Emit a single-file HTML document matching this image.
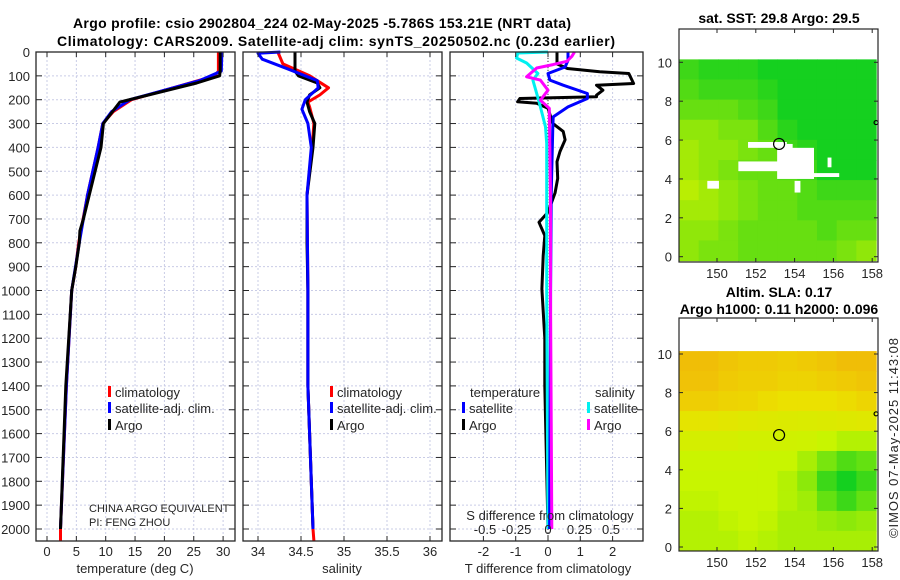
<!DOCTYPE html>
<html><head><meta charset="utf-8">
<style>
html,body{margin:0;padding:0;background:#fff;}
svg{display:block;font-family:"Liberation Sans","DejaVu Sans",sans-serif;}
.t{font-size:13px;fill:#262626;}
.ti{font-size:14px;font-weight:bold;fill:#000;}
</style></head>
<body>
<svg id="fig" width="900" height="580" viewBox="0 0 900 580" xmlns="http://www.w3.org/2000/svg">
<text class="ti" x="322" y="28" text-anchor="middle" textLength="498">Argo profile: csio 2902804_224 02-May-2025 -5.786S 153.21E (NRT data)</text>
<text class="ti" x="336" y="46" text-anchor="middle" textLength="558">Climatology: CARS2009. Satellite-adj clim: synTS_20250502.nc (0.23d earlier)</text>
<text class="ti" x="779" y="23" text-anchor="middle">sat. SST: 29.8 Argo: 29.5</text>
<text class="ti" x="779" y="297" text-anchor="middle">Altim. SLA: 0.17</text>
<text class="ti" x="779" y="314" text-anchor="middle">Argo h1000: 0.11 h2000: 0.096</text>
<text class="t" x="0" y="0" textLength="200" transform="translate(898,538) rotate(-90)">©IMOS 07-May-2025 11:43:08</text>
<g id="layer"></g>
</svg>
<script>
// ---- profile data (depth m) ----
const tDepth  = [0,80,100,130,210,300,400,500,700,750,800,900,1000,1400,2000];
const tArgo   = [29.5,29.5,29.4,25.5,12.4,9.6,9.2,8.2,6.2,5.6,5.5,4.9,4.2,3.2,2.3];
const cDepth  = [0,80,100,150,200,250,300,400,600,800,900,1000,1400,2000,2050];
const tClim   = [29.2,29.2,28.6,21.5,14.4,11.3,9.5,8.7,6.9,5.4,4.9,4.2,3.3,2.3,2.3];
const sDepth  = [0,80,120,150,200,250,300,400,600,800,1000,1400,2000];
const tSat    = [29.8,29.7,26.0,21.5,14.1,11.0,9.5,8.7,6.9,5.5,4.2,3.3,2.3];
const sArgoD  = [0,80,100,130,150,180,210,250,300,400,600,800,1000,1400,2000];
const sArgo   = [34.43,34.43,34.47,34.69,34.72,34.60,34.57,34.60,34.66,34.64,34.57,34.57,34.58,34.58,34.64];
const sClimD  = [0,50,100,150,180,210,230,300,400,600,1000,1400,2000,2050];
const sClim   = [34.23,34.29,34.60,34.82,34.72,34.58,34.60,34.65,34.63,34.57,34.58,34.58,34.64,34.65];
const sSatD   = [0,5,30,70,120,150,200,240,300,400,600,1000,1400,2000];
const sSat    = [34.26,34.0,34.05,34.34,34.69,34.70,34.55,34.51,34.58,34.62,34.57,34.58,34.58,34.64];
// differences
const dTArgoD = [0,50,69,83,90,132,139,160,181,188,195,209,215,236,300,333,368,417,460,530,590,672,714,770,854,994,1200,1400,2000];
const dTArgo  = [0.28,0.28,0.6,1.6,2.5,2.65,1.5,1.7,1.5,1.5,-0.87,-0.94,-0.35,0,0.15,0.47,0.53,0.37,0.28,0.3,0.22,0,-0.28,-0.1,-0.15,-0.19,-0.1,-0.1,0];
const dTSatD  = [0,35,63,90,118,139,174,195,230,272,314,600,1000,2000];
const dTSat   = [0.62,0.62,0.53,0,0.06,0.47,1.22,1.22,0.62,0.16,0.15,0.1,0.08,0.05];
const dSSatD  = [0,4,25,46,90,118,174,230,314,384,1000,2000];
const dSSat   = [0,-0.24,-0.25,-0.17,-0.08,-0.12,-0.09,-0.06,-0.02,-0.01,-0.01,0];
const dSArgoD = [0,18,39,53,67,104,118,160,202,236,600,1000,2000];
const dSArgo  = [0.21,0.19,0.15,0.04,-0.09,-0.17,-0.06,0,-0.06,0.01,0.02,0.02,0.03];
// axis ticks
const depthTicks = [0,100,200,300,400,500,600,700,800,900,1000,1100,1200,1300,1400,1500,1600,1700,1800,1900,2000];
const tTicks = [0,5,10,15,20,25,30];
const sTicks = [34,34.5,35,35.5,36];
const sTickLabels = ["34","34.5","35","35.5","36"];
const dtTicks = [-2,-1,0,1,2];
const dsTicks = [-0.5,-0.25,0,0.25,0.5];
const dsTickLabels = ["-0.5","-0.25","0","0.25","0.5"];
// maps
const lonTicks = [150,152,154,156,158];
const latTicks = [0,2,4,6,8,10];
const sstGrid = [
 [0.3,0.2,0.2,0.2,0.1,0.1,0.1,0.1,0.1,0.1],
 [0.4,0.3,0.3,0.3,0.2,0.1,0.1,0.1,0.1,0.1],
 [0.5,0.5,0.5,0.4,0.3,0.1,0.1,0.1,0.1,0.1],
 [0.7,0.7,0.6,0.6,0.4,0.2,0.1,0.1,0.1,0.1],
 [0.8,0.7,0.7,0.6,0.5,0.3,0.2,0.1,0.1,0.1],
 [0.8,0.7,0.6,0.5,0.5,0.4,0.3,0.1,0.1,0.1],
 [0.9,0.8,0.7,0.6,0.5,0.5,0.4,0.3,0.3,0.3],
 [0.8,0.8,0.7,0.6,0.5,0.5,0.4,0.4,0.4,0.4],
 [0.7,0.7,0.6,0.5,0.5,0.5,0.5,0.4,0.5,0.5],
 [0.7,0.6,0.6,0.5,0.5,0.5,0.5,0.5,0.6,0.7]];
const slaGrid = [
 [0.95,0.95,0.92,0.9,0.9,0.88,0.9,0.92,0.95,0.95],
 [0.93,0.93,0.9,0.88,0.88,0.86,0.86,0.88,0.9,0.92],
 [0.88,0.88,0.86,0.85,0.82,0.8,0.8,0.8,0.82,0.85],
 [0.75,0.75,0.72,0.7,0.68,0.66,0.65,0.66,0.68,0.7],
 [0.6,0.6,0.6,0.58,0.58,0.56,0.55,0.5,0.45,0.45],
 [0.52,0.52,0.52,0.52,0.5,0.5,0.42,0.3,0.2,0.25],
 [0.5,0.5,0.5,0.5,0.5,0.45,0.35,0.15,0.05,0.15],
 [0.48,0.48,0.5,0.5,0.5,0.45,0.4,0.25,0.15,0.25],
 [0.45,0.45,0.48,0.5,0.48,0.42,0.42,0.38,0.35,0.38],
 [0.45,0.45,0.45,0.48,0.45,0.42,0.42,0.42,0.42,0.42]];
const holeLon0 = [151.1,151.6,153.1,154.9,149.5,153.3,155.7,154.0];
const holeLon1 = [155.0,153.6,155.0,156.3,150.1,153.9,155.9,154.3];
const holeLat0 = [4.4,5.6,4.0,4.1,3.5,4.9,4.6,3.3];
const holeLat1 = [4.9,5.9,5.6,4.3,3.9,5.8,5.1,3.9];
const floatLon = [153.2];
const floatLat = [5.8];

const NS="http://www.w3.org/2000/svg";
const L=document.getElementById('layer');
function mk(tag,attrs,parent){const e=document.createElementNS(NS,tag);for(const k in attrs)e.setAttribute(k,attrs[k]);(parent||L).appendChild(e);return e;}
const Y0=52, KY=0.2385, YB=541;
const yD=d=>Y0+d*KY;
const ax1=v=>47+5.87*v, ax2=v=>258+86*(v-34), ax3=v=>548+32.3*v, ax3s=v=>548+126*v;
function grid(x0,x1,vals,fx){
  for(const d of depthTicks){const l=mk('line',{x1:x0,x2:x1,y1:yD(d),y2:yD(d),stroke:'#c9cce6','stroke-width':1,'stroke-dasharray':'2,2'});
    }
  for(const v of vals){const l=mk('line',{x1:fx(v),x2:fx(v),y1:Y0,y2:YB,stroke:'#c9cce6','stroke-width':1,'stroke-dasharray':'2,2'});
    }
}
function frame(x0,x1,name,vals,fx){
  const r=mk('rect',{x:x0,y:Y0,width:x1-x0,height:YB-Y0,fill:'none',stroke:'#262626','stroke-width':1.3});
  
  for(const d of depthTicks){mk('line',{x1:x0,x2:x0+6,y1:yD(d),y2:yD(d),stroke:'#262626'});mk('line',{x1:x1-6,x2:x1,y1:yD(d),y2:yD(d),stroke:'#262626'});}
  for(const v of vals){mk('line',{x1:fx(v),x2:fx(v),y1:YB-5,y2:YB,stroke:'#262626'});mk('line',{x1:fx(v),x2:fx(v),y1:Y0,y2:Y0+5,stroke:'#262626'});}
}
function line(ds,vs,fx,col,name,w){
  const pts=ds.map((d,i)=>fx(vs[i]).toFixed(1)+','+yD(d).toFixed(1)).join(' ');
  const p=mk('polyline',{points:pts,fill:'none',stroke:col,'stroke-width':w||3,'stroke-linejoin':'round'});
  
}
function text(x,y,s,name,anchor,size){const t=mk('text',{x:x,y:y,'class':'t','text-anchor':anchor||'start'});if(size)t.style.fontSize=size+'px';t.textContent=s;
  return t;}

// panel 1
grid(36,235,tTicks,ax1);
line(cDepth,tClim,ax1,'#ff0000','temp-climatology-line');
line(sDepth,tSat,ax1,'#0000ff','temp-satellite-line');
line(tDepth,tArgo,ax1,'#000000','temp-argo-line');
frame(36,235,'temperature-panel',tTicks,ax1);
for(const d of depthTicks) text(30,yD(d)+5,String(d),'depth-tick-label','end');
for(const v of tTicks) text(ax1(v),556,String(v),'temp-tick-label','middle');
text(135,573,'temperature (deg C)','temp-axis-title','middle');
// panel 2
grid(243,442,sTicks,ax2);
line(sClimD,sClim,ax2,'#ff0000','sal-climatology-line');
line(sArgoD,sArgo,ax2,'#000000','sal-argo-line');
line(sSatD,sSat,ax2,'#0000ff','sal-satellite-line');
frame(243,442,'salinity-panel',sTicks,ax2);
sTicks.forEach((v,i)=>text(ax2(v),556,sTickLabels[i],'sal-tick-label','middle'));
text(342,573,'salinity','sal-axis-title','middle');
// panel 3
grid(450,643,dtTicks,ax3);
mk('line',{x1:548,x2:548,y1:Y0,y2:YB,stroke:'#333','stroke-width':1,'stroke-dasharray':'1,2'});
line(dTArgoD,dTArgo,ax3,'#000000','tdiff-argo-line');
line(dSSatD,dSSat,ax3s,'#00f0f0','sdiff-satellite-line');
line(dTSatD,dTSat,ax3,'#0000ff','tdiff-satellite-line');
line(dSArgoD,dSArgo,ax3s,'#ff00ff','sdiff-argo-line');
frame(450,643,'difference-panel',dtTicks,ax3);
dtTicks.forEach(v=>text(ax3(v),556,String(v),'tdiff-tick-label','middle'));
text(548,573,'T difference from climatology','tdiff-axis-title','middle');
text(550,520,'S difference from climatology','sdiff-axis-title','middle');
dsTicks.forEach((v,i)=>text(ax3s(v),534,dsTickLabels[i],'sdiff-tick-label','middle'));
// legends
function leg(x,y,col,s,name){const r=mk('rect',{x:x,y:y-6,width:3,height:11,fill:col});text(x+7,y+5,s,name);}
leg(108,392,'#ff0000','climatology','legend-climatology');
leg(108,408,'#0000ff','satellite-adj. clim.','legend-satellite-adj');
leg(108,425,'#000000','Argo','legend-argo');
leg(330,392,'#ff0000','climatology','legend2-climatology');
leg(330,408,'#0000ff','satellite-adj. clim.','legend2-satellite-adj');
leg(330,425,'#000000','Argo','legend2-argo');
text(470,397,'temperature','legend-temperature-header');
text(595,397,'salinity','legend-salinity-header');
leg(462,408,'#0000ff','satellite','legend-t-satellite');
leg(462,425,'#000000','Argo','legend-t-argo');
leg(587,408,'#00f0f0','satellite','legend-s-satellite');
leg(587,425,'#ff00ff','Argo','legend-s-argo');
text(89,512,'CHINA ARGO EQUIVALENT','owner-note',null,11);
text(89,526,'PI: FENG ZHOU','pi-note',null,11);

// maps
function lerp(a,b,t){return a.map((v,i)=>Math.round(v+(b[i]-v)*t));}
function sstCol(v){return 'rgb('+lerp([0,204,34],[205,242,0],v).join(',')+')';}
function slaCol(v){let c;if(v<0.5)c=lerp([0,204,34],[200,245,0],v/0.5);else if(v<0.8)c=lerp([200,245,0],[235,225,0],(v-0.5)/0.3);else c=lerp([235,225,0],[242,178,10],(v-0.8)/0.2);return 'rgb('+c.join(',')+')';}
function map(top,lat10,lat0,g,colf,name,holes){
  const bx0=679,bx1=878,by0=top,by1=top+233;
  const fx=lon=>717+19.4*(lon-150), fy=lat=>lat0+(lat10-lat0)*lat/10;
  const grp=mk('g',{});
  const lonA=148.04,lonB=158.2,latT=10.15,latB=-0.2;
  for(let r=0;r<10;r++)for(let c=0;c<10;c++){
    const lo0=lonA+(lonB-lonA)*c/10,lo1=lonA+(lonB-lonA)*(c+1)/10;
    const la1=latT-(latT-latB)*r/10,la0=latT-(latT-latB)*(r+1)/10;
    const cell=mk('rect',{x:fx(lo0),y:fy(la1),width:fx(lo1)-fx(lo0)+0.6,height:fy(la0)-fy(la1)+0.6,fill:colf(g[r][c])},grp);
    
  }
  if(holes){for(let i=0;i<holeLon0.length;i++){const h=mk('rect',{x:fx(holeLon0[i]),y:fy(holeLat1[i]),width:fx(holeLon1[i])-fx(holeLon0[i]),height:fy(holeLat0[i])-fy(holeLat1[i]),fill:'#fff'},grp);
    }}
  for(let i=0;i<floatLon.length;i++){const c=mk('circle',{cx:fx(floatLon[i]),cy:fy(floatLat[i]),r:5.5,fill:'none',stroke:'#000','stroke-width':1.2},grp);
    }
  mk('circle',{cx:fx(158.2),cy:fy(6.9),r:2,fill:'none',stroke:'#000','stroke-width':1.2},grp);
  const b=mk('rect',{x:bx0,y:by0,width:bx1-bx0,height:by1-by0,fill:'none',stroke:'#262626','stroke-width':1.2});
  
  for(const lo of lonTicks){mk('line',{x1:fx(lo),x2:fx(lo),y1:by1,y2:by1-4,stroke:'#262626'});mk('line',{x1:fx(lo),x2:fx(lo),y1:by0,y2:by0+4,stroke:'#262626'});
    text(fx(lo),by1+16,String(lo),'lon-tick-label','middle');}
  for(const la of latTicks){mk('line',{x1:bx0,x2:bx0+4,y1:fy(la),y2:fy(la),stroke:'#262626'});mk('line',{x1:bx1-4,x2:bx1,y1:fy(la),y2:fy(la),stroke:'#262626'});
    text(672,fy(la)+5,String(la),'lat-tick-label','end');}
}
map(29,62.3,256.7,sstGrid,sstCol,'sst-map',true);
map(318,354,547,slaGrid,slaCol,'sla-map',false);
</script>
</body></html>
